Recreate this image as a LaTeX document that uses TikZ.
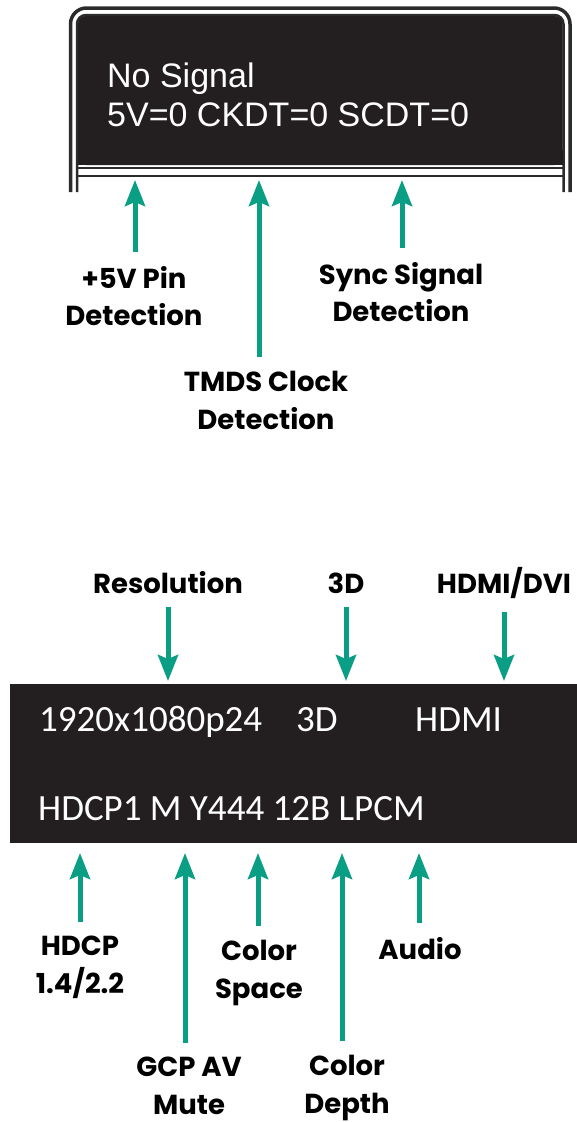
\documentclass[tikz,border=0pt]{standalone}
\usepackage{fontspec}
\usepackage{tikz}
\usetikzlibrary{arrows.meta,positioning}
\newfontfamily\lblfont{Poppins}
\newfontfamily\oledfont{Liberation Sans}
\newfontfamily\lcdfont{Carlito}
\definecolor{tealx}{HTML}{0A9F84}
\definecolor{panelx}{HTML}{231F20}
\definecolor{framex}{HTML}{2B2B2B}
\tikzset{
  ar/.style={-{Stealth[length=26pt,width=20pt,inset=4pt]},line width=5pt,tealx},
  lbl/.style={font=\lblfont\bfseries\fontsize{27.5}{37.5}\selectfont,align=center,inner xsep=0pt,inner ysep=14pt},
  oled/.style={font=\oledfont\fontsize{34}{40}\selectfont,text=white,inner sep=0pt,anchor=base west},
  lcd/.style={font=\lcdfont\fontsize{37}{44}\selectfont,text=white,inner sep=0pt,anchor=base west},
  frm/.style={draw=framex,line width=#1}
}
\begin{document}
\begin{tikzpicture}[x=1pt,y=-1pt]
\useasboundingbox (0,0) rectangle (577,1122);
% top screen (status page)
\draw[frm=3.5pt,rounded corners=16pt] (70.5,192) -- (70.5,8) -- (570,8) -- (570,192);
\draw[frm=2.5pt,rounded corners=9pt] (77,192) -- (77,15) -- (563.5,15) -- (563.5,192);
\fill[panelx,rounded corners=8pt] (78,16) rectangle (562.5,165);
\fill[panelx] (78,150) rectangle (562.5,165);
\draw[frm=2pt] (77,167.5) -- (563.5,167.5);
\draw[frm=2pt] (77,176) -- (563.5,176);
\node[oled] (nosig) at (107,87) {No Signal};
\node[oled] (flags) at (107,126) {5V=0 CKDT=0 SCDT=0};
% bottom screen (signal info)
\fill[panelx] (10,684) rectangle (577,843);
\node[lcd] (res) at (39,731) {1920x1080p24};
\node[lcd] (threed) at (296,731) {3D};
\node[lcd] (hdmi) at (415,731) {HDMI};
\node[lcd] (info) at (38,820) {HDCP1 M Y444 12B LPCM};
% arrow tips
\coordinate (t5v) at (135,180);
\coordinate (ttmds) at (259,180);
\coordinate (tsync) at (402,180);
\coordinate (tres) at (168,681);
\coordinate (t3d) at (346,681);
\coordinate (thdmi) at (504,681);
\coordinate (thdcp) at (80,853);
\coordinate (tgcp) at (185,853);
\coordinate (tcs) at (258,853);
\coordinate (tcd) at (342,853);
\coordinate (taud) at (419,853);
% labels
\node[lbl,anchor=north] (l5v) at (134,252) {+5V Pin\\Detection};
\node[lbl,anchor=north] (ltmds) at (266,357) {TMDS Clock\\Detection};
\node[lbl,anchor=north] (lsync) at (401,248) {Sync Signal\\Detection};
\node[lbl,anchor=base] (lres) at (168,593) {Resolution};
\node[lbl,anchor=base] (l3d) at (346,593) {3D};
\node[lbl,anchor=base] (lhdmi) at (504,593) {HDMI/DVI};
\node[lbl,anchor=north] (lhdcp) at (80,922) {HDCP\\1.4/2.2};
\node[lbl,anchor=north] (lgcp) at (189,1043) {GCP AV\\Mute};
\node[lbl,anchor=north] (lcs) at (259,926) {Color\\Space};
\node[lbl,anchor=north] (lcd) at (347,1041) {Color\\Depth};
\node[lbl,anchor=base] (laud) at (420,959) {Audio};
% arrows
\draw[ar] (l5v.north -| t5v) -- (t5v);
\draw[ar] (ltmds.north -| ttmds) -- (ttmds);
\draw[ar] (lsync.north -| tsync) -- (tsync);
\draw[ar] (lres.south -| tres) -- (tres);
\draw[ar] (l3d.south -| t3d) -- (t3d);
\draw[ar] (lhdmi.south -| thdmi) -- (thdmi);
\draw[ar] (lhdcp.north -| thdcp) -- (thdcp);
\draw[ar] (lgcp.north -| tgcp) -- (tgcp);
\draw[ar] (lcs.north -| tcs) -- (tcs);
\draw[ar] (lcd.north -| tcd) -- (tcd);
\draw[ar] (laud.north -| taud) -- (taud);
\end{tikzpicture}
\end{document}
